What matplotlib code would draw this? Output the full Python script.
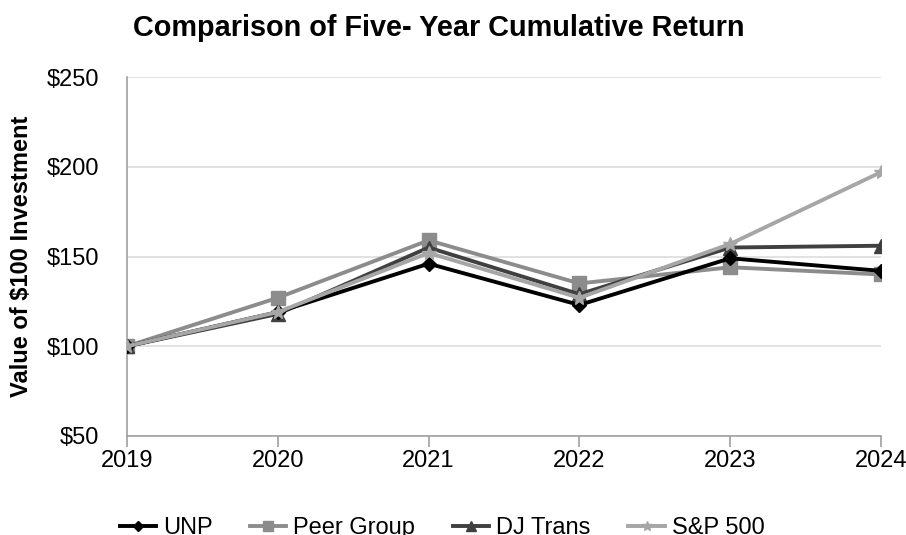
import matplotlib.pyplot as plt

plt.rcParams['font.family'] = ['Liberation Sans', 'DejaVu Sans']

years = [2019, 2020, 2021, 2022, 2023, 2024]
unp = [100, 119, 146, 123, 149, 142]
peer_group = [100, 127, 159, 135, 144, 140]
dj_trans = [100, 118, 155, 129, 155, 156]
sp500 = [100, 119, 152, 127, 157, 197]

fig = plt.figure(figsize=(9.06, 5.35), dpi=100)
ax = fig.add_axes([127 / 906, 1 - 436 / 535, (881 - 127) / 906, (436 - 77) / 535])

ax.plot(years, unp, color='black', lw=2.8, marker='D', ms=7, label='UNP', zorder=4)
ax.plot(years, peer_group, color='#8c8c8c', lw=2.8, marker='s', ms=10, label='Peer Group', zorder=2)
ax.plot(years, dj_trans, color='#404040', lw=2.8, marker='^', ms=10, label='DJ Trans', zorder=3)
ax.plot(years, sp500, color='#a6a6a6', lw=2.8, marker='*', ms=10, label='S&P 500', zorder=5)

ax.set_xlim(2019, 2024)
ax.set_ylim(50, 250)
ax.set_yticks([50, 100, 150, 200, 250])
ax.set_yticklabels(['$50', '$100', '$150', '$200', '$250'])
ax.set_xticks(years)
ax.tick_params(axis='y', labelsize=17, length=0, pad=20)
ax.tick_params(axis='x', labelsize=17, length=8, width=1.2, color='#a0a0a0', direction='out', pad=2)
ax.grid(axis='y', color='#dddddd', lw=1.2)
ax.set_axisbelow(True)
for s in ['top', 'right']:
    ax.spines[s].set_visible(False)
ax.spines['left'].set_color('#a0a0a0')
ax.spines['bottom'].set_color('#a0a0a0')
ax.spines['left'].set_linewidth(1.2)
ax.spines['bottom'].set_linewidth(1.2)

ax.set_ylabel('Value of $100 Investment', fontsize=17, fontweight='bold')
ax.yaxis.set_label_coords(-94 / 754, 0.5)
fig.text(439 / 906, 1 - 28 / 535, 'Comparison of Five- Year Cumulative Return',
         ha='center', va='center', fontsize=20.8, fontweight='bold')

fig.legend(loc='center', bbox_to_anchor=(442 / 906, 1 - 528 / 535), ncol=4, frameon=False,
           fontsize=17, handlelength=1.53, columnspacing=1.6, handletextpad=0.3,
           markerscale=0.7)

fig.savefig('out.png', dpi=100)
